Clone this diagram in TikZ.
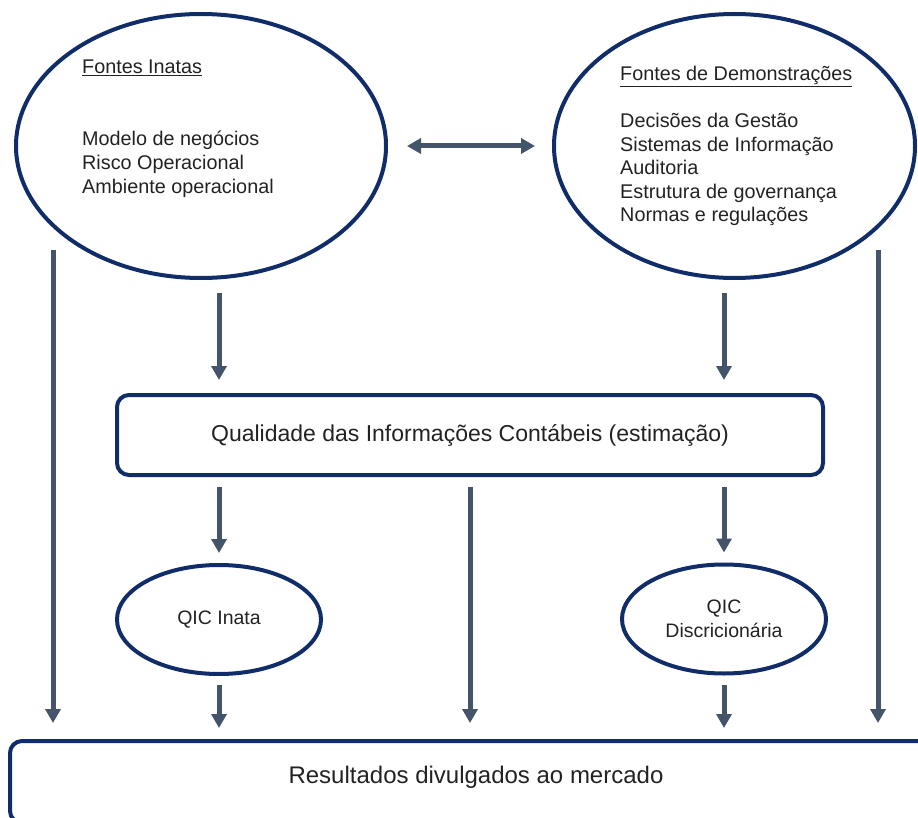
\documentclass[tikz,border=0pt]{standalone}
\usepackage{fontspec}
\setmainfont{Liberation Sans}
\usetikzlibrary{arrows.meta,shapes.geometric}
\definecolor{knavy}{HTML}{102D69}
\definecolor{kslate}{HTML}{44546A}
\definecolor{kink}{HTML}{222222}
\tikzset{
  kellipse/.style={draw=knavy, line width=4pt, ellipse, inner sep=0pt, text=kink},
  ksource/.style={kellipse},
  kqic/.style={kellipse, minimum width=204pt, minimum height=109pt, align=center, font=\fontsize{19.5}{23.5}\selectfont},
  kbox/.style={draw=knavy, line width=4pt, rounded corners=12pt, align=center, text=kink, font=\fontsize{23}{27}\selectfont},
  klist/.style={anchor=base west, align=left, inner sep=0pt, text=kink},
  flow/.style={-{Triangle[width=15pt,length=14pt]}, line width=5pt, draw=kslate},
  flowboth/.style={{Triangle[width=15pt,length=14pt]}-{Triangle[width=15pt,length=14pt]}, line width=5pt, draw=kslate},
}
\begin{document}
\begin{tikzpicture}[x=1pt, y=-1pt]
  \useasboundingbox (0,0) rectangle (918,818);
  \clip (0,0) rectangle (918,818);
  % sources
  \node[ksource, minimum width=370pt, minimum height=264pt] (inatas) at (201,146) {};
  \node[ksource, minimum width=361pt, minimum height=264pt] (demo) at (734.5,146) {};
  % base anchor sits on the last line
  \node[klist, font=\fontsize{19.8}{24}\selectfont] (inatastxt) at (82,194)
    {\underline{Fontes Inatas}\\[48pt]Modelo de negócios\\Risco Operacional\\Ambiente operacional};
  \node[klist, font=\fontsize{19.8}{23.5}\selectfont] (demotxt) at (620,222)
    {\underline{Fontes de Demonstrações}\\[23.5pt]Decisões da Gestão\\Sistemas de Informação\\Auditoria\\Estrutura de governança\\Normas e regulações};
  % quality and results
  \node[kbox, minimum width=706pt, minimum height=80pt] (qual) at (470,435) {Qualidade das Informações Contábeis (estimação)};
  \node[kqic] (inata) at (219,619.5) {QIC Inata};
  \node[kqic] (disc) at (724,619) {QIC\\Discricionária};
  \node[kbox, minimum width=932pt, minimum height=82pt, text depth=15pt, font=\fontsize{24}{28}\selectfont] (res) at (476,782) {Resultados divulgados ao mercado};
  \coordinate (lsrc) at (53,250);
  \coordinate (rsrc) at (878,250);
  % connectors
  \draw[flowboth, shorten <=19pt, shorten >=17pt] (inatas.east) -- (demo.west);
  \draw[flow, shorten <=13pt, shorten >=13pt] (inatas.south -| inata) -- (qual.north -| inata);
  \draw[flow, shorten <=13pt, shorten >=13pt] (demo.south -| disc) -- (qual.north -| disc);
  \draw[flow, shorten <=10pt, shorten >=10pt] (qual.south -| inata) -- (inata.north);
  \draw[flow, shorten <=10pt, shorten >=10pt] (qual.south -| disc) -- (disc.north);
  \draw[flow, shorten <=10pt, shorten >=16pt] (qual.south) -- (qual.south |- res.north);
  \draw[flow, shorten <=9pt, shorten >=11pt] (inata.south) -- (inata.south |- res.north);
  \draw[flow, shorten <=9pt, shorten >=11pt] (disc.south) -- (disc.south |- res.north);
  \draw[flow, shorten >=16pt] (lsrc) -- (lsrc |- res.north);
  \draw[flow, shorten >=16pt] (rsrc) -- (rsrc |- res.north);
\end{tikzpicture}
\end{document}
